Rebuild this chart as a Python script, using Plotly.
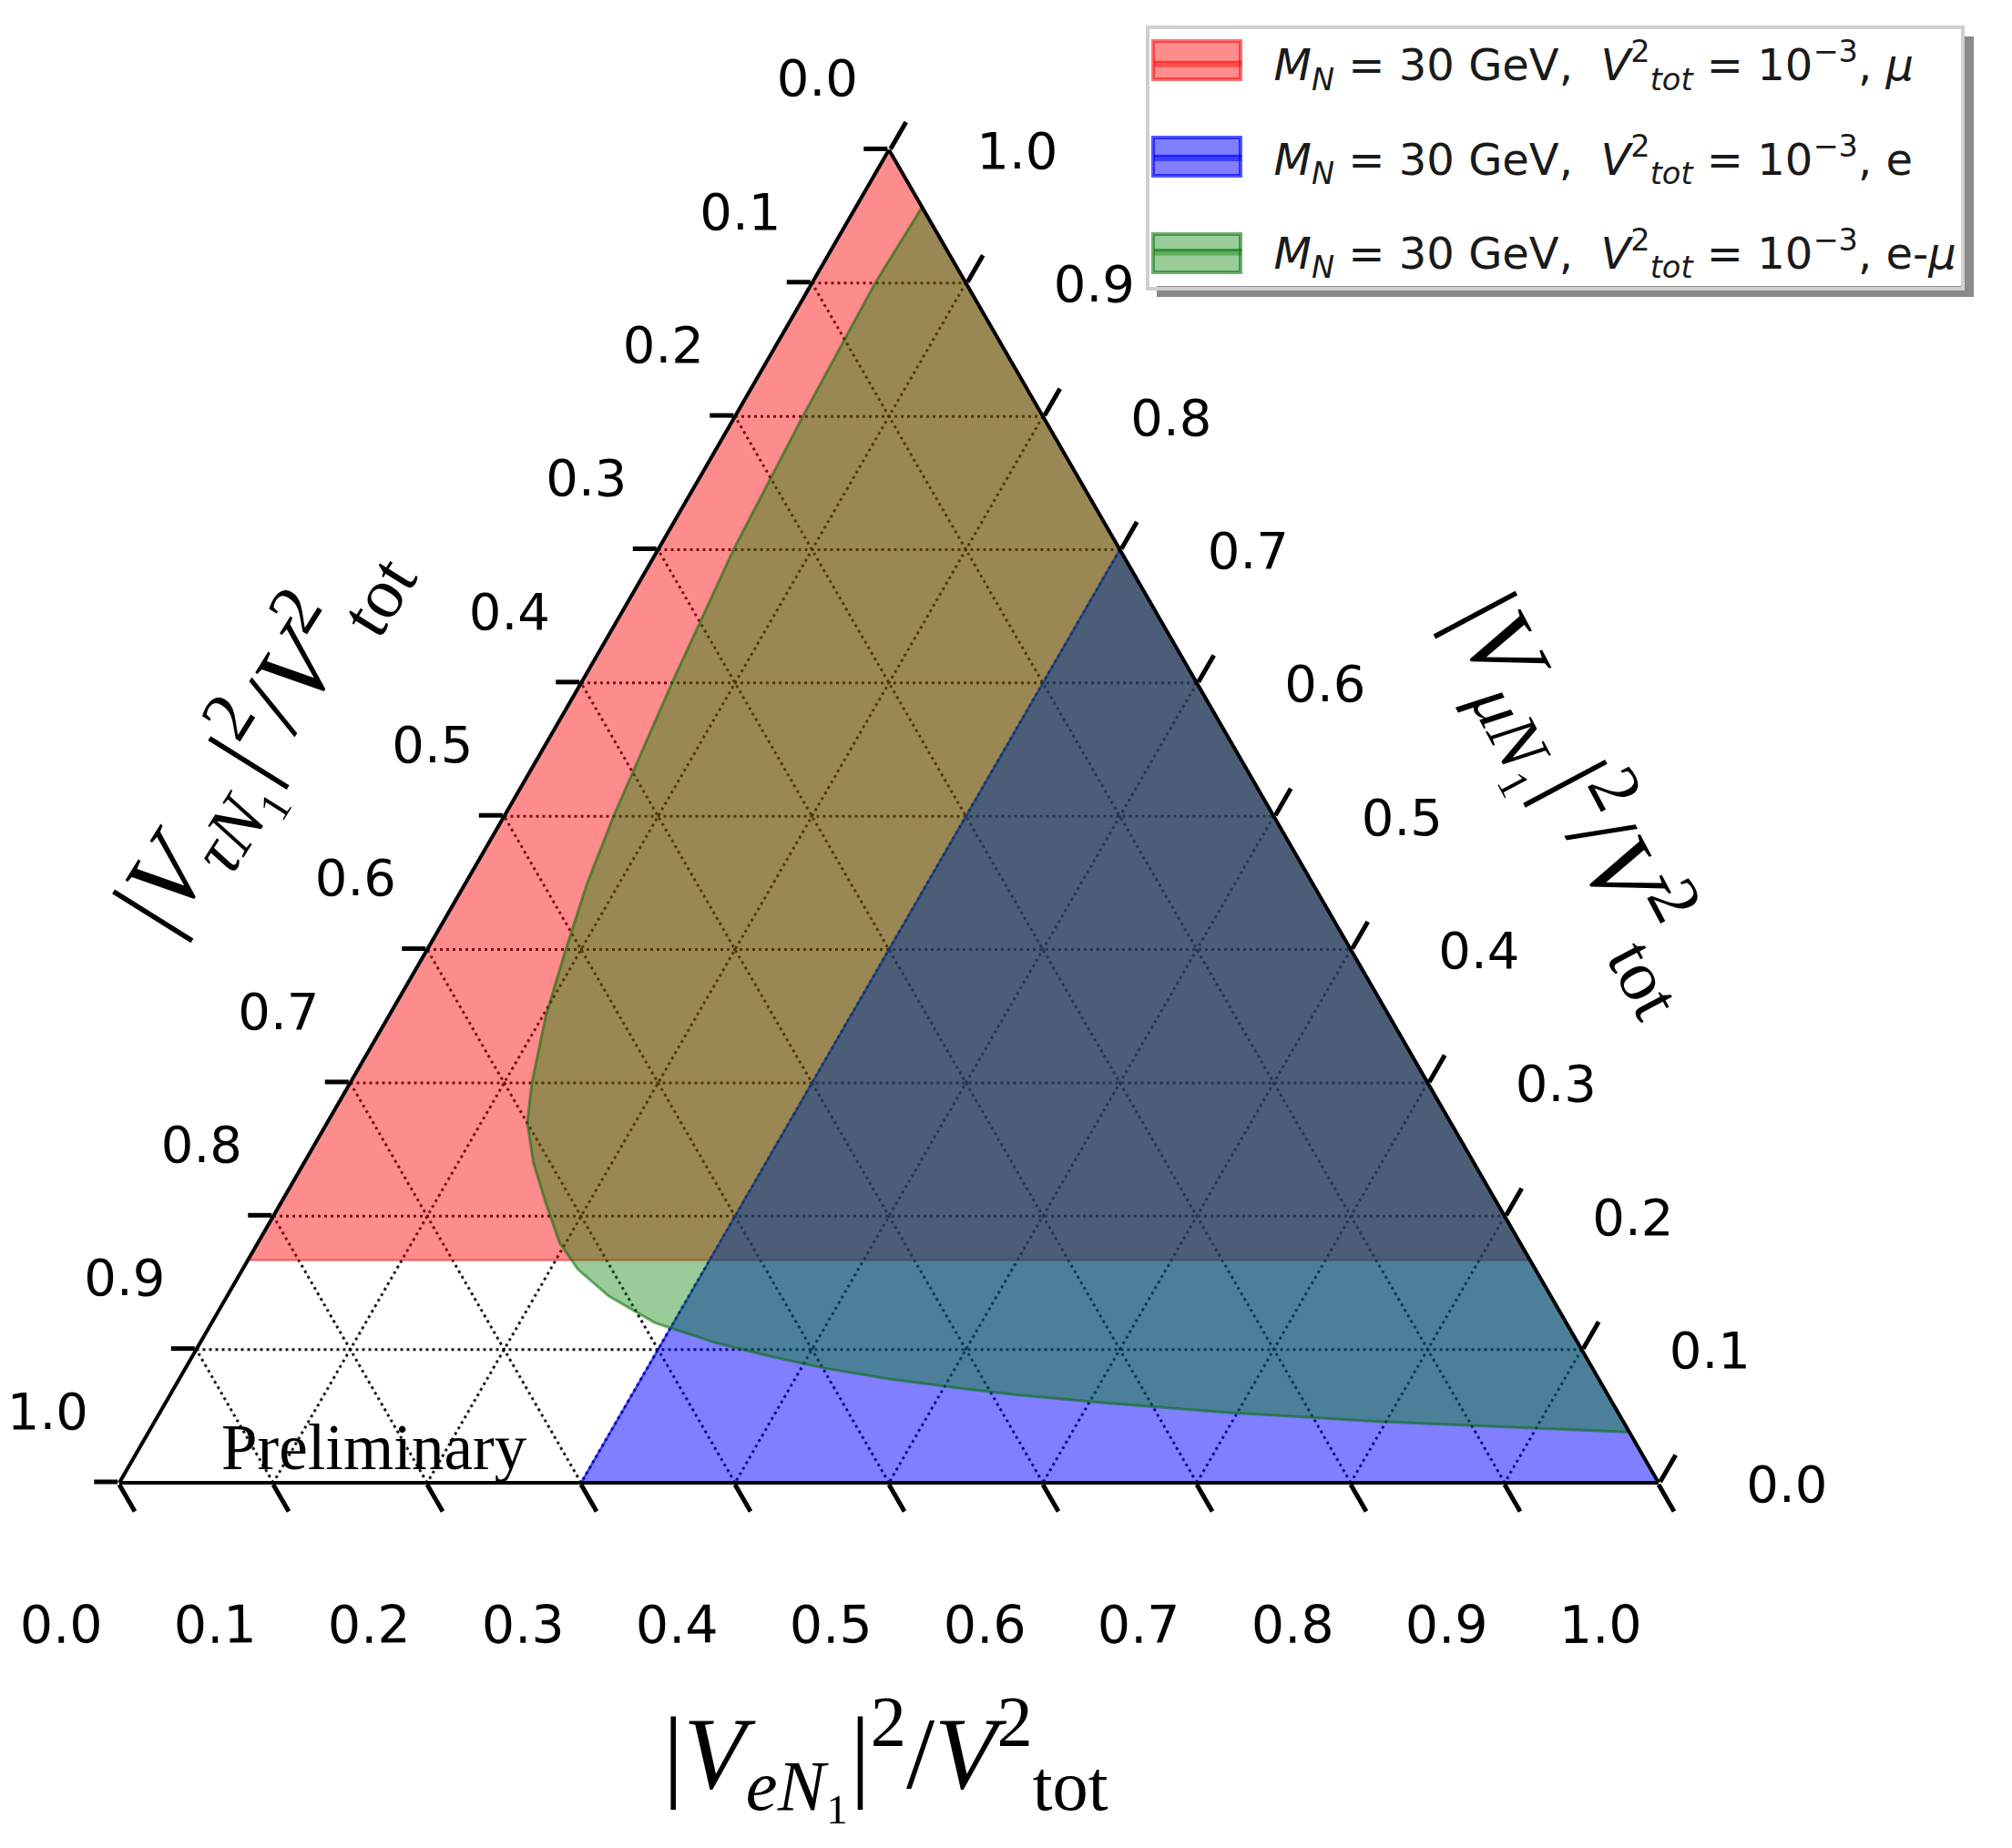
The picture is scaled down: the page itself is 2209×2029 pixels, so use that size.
import plotly.graph_objects as go

# ---------------- data (ternary fractions) ----------------
# e = |V_eN1|^2/V_tot^2, mu = |V_muN1|^2/V_tot^2, tau = 1 - e - mu
tick_values = [0.0, 0.1, 0.2, 0.3, 0.4, 0.5, 0.6, 0.7, 0.8, 0.9, 1.0]
tick_labels = ["0.0", "0.1", "0.2", "0.3", "0.4", "0.5", "0.6", "0.7", "0.8", "0.9", "1.0"]

# region allowed for the mu channel
mu_region_e = [0.0, 0.833, 0.0]
mu_region_mu = [0.167, 0.167, 1.0]

# region allowed for the e channel
e_region_e = [0.30, 0.30, 1.00]
e_region_mu = [0.00, 0.70, 0.00]

# region allowed for the e-mu channel (boundary curve, closed along tau = 0)
emu_region_e = [0.043, 0.041, 0.044, 0.049, 0.059, 0.071, 0.079, 0.090, 0.102, 0.118,
                0.130, 0.149, 0.172, 0.196, 0.218, 0.248, 0.288, 0.335, 0.375, 0.415,
                0.460, 0.510, 0.550, 0.610, 0.690, 0.795, 0.898, 0.962]
emu_region_mu = [0.957, 0.900, 0.800, 0.700, 0.600, 0.500, 0.450, 0.400, 0.350, 0.300,
                 0.270, 0.240, 0.210, 0.180, 0.160, 0.140, 0.120, 0.105, 0.095, 0.086,
                 0.078, 0.071, 0.066, 0.060, 0.053, 0.046, 0.041, 0.038]

legend_base = "<i>M<sub>N</sub></i> = 30 GeV,\u00a0\u00a0<i>V</i><sup>2</sup><sub><i>tot</i></sub> = 10<sup>\u22123</sup>, "
series_names = [
    "\u00a0\u00a0" + legend_base + "<i>\u03bc</i>",
    "\u00a0\u00a0" + legend_base + "e",
    "\u00a0\u00a0" + legend_base + "e-<i>\u03bc</i>",
]

fill_colors = ["rgba(255,0,0,0.45)", "rgba(0,0,255,0.5)", "rgba(0,128,0,0.4)"]
edge_colors = ["rgba(255,0,0,0.55)", "rgba(0,0,255,0.65)", "rgba(0,110,0,0.55)"]
edge_widths = [2, 2.5, 3]


def tau_of(e_list, mu_list):
    return [1.0 - e - m for e, m in zip(e_list, mu_list)]


fig = go.Figure()

regions = [(mu_region_e, mu_region_mu), (e_region_e, e_region_mu), (emu_region_e, emu_region_mu)]
for i, (e_vals, mu_vals) in enumerate(regions):
    fig.add_trace(go.Scatterternary(
        a=mu_vals, b=tau_of(e_vals, mu_vals), c=e_vals,
        mode="lines", fill="toself", fillcolor=fill_colors[i],
        line=dict(color=edge_colors[i], width=edge_widths[i]),
        name=series_names[i], legendgroup=f"g{i}", hoverinfo="skip",
    ))

NB = "\u00a0"
# left edge labels (tau), shifted up like the reference
a_text = [t + "<br> <br> " for t in tick_labels[::-1]]
# bottom labels (e), pushed down and to the left of their ticks
b_text = ["<br>" + t + NB * 2 for t in tick_labels[::-1]]
# right edge labels (mu), shifted to the right at the same height
c_text = ["<br>" + NB * 4 + t for t in tick_labels[::-1]]

axis_common = dict(
    tickmode="array", tickvals=tick_values,
    ticks="outside", ticklen=34, tickwidth=4.5, tickcolor="black",
    showline=True, linecolor="black", linewidth=4,
    showgrid=True, gridcolor="rgba(0,0,0,0.9)", gridwidth=2.5, griddash="3px,4px",
    layer="above traces", title=dict(text=""), min=0,
)

W, H = 2209, 2029
tri_w = 1690.0
tri_h = tri_w * 3 ** 0.5 / 2
x_left = 131.0
y_bottom = 1628.0

# legend frame (pixels) and legend key boxes drawn behind the transparent legend
leg_top, leg_h, leg_left, leg_w = 28, 286, 1258, 897
key_x0, key_x1, key_half_h = 1266, 1362, 21
key_centers = [66, 172, 278]

shapes = [
    dict(type="rect", xref="paper", yref="paper", layer="above",
         x0=(leg_left + 12) / W, x1=(leg_left + leg_w + 12) / W,
         y0=1 - (leg_top + leg_h + 12) / H, y1=1 - (leg_top + 12) / H,
         fillcolor="#8a8a8a", line=dict(width=0)),
    dict(type="rect", xref="paper", yref="paper", layer="above",
         x0=leg_left / W, x1=(leg_left + leg_w) / W,
         y0=1 - (leg_top + leg_h) / H, y1=1 - leg_top / H,
         fillcolor="white", line=dict(width=0)),
]
for i, yc in enumerate(key_centers):
    shapes.append(dict(type="rect", xref="paper", yref="paper", layer="above",
                       x0=key_x0 / W, x1=key_x1 / W,
                       y0=1 - (yc + key_half_h) / H, y1=1 - (yc - key_half_h) / H,
                       fillcolor=fill_colors[i], line=dict(color=edge_colors[i], width=4)))

fig.update_layout(
    width=W, height=H,
    margin=dict(l=0, r=0, t=0, b=0),
    paper_bgcolor="white",
    showlegend=True,
    ternary=dict(
        sum=1,
        bgcolor="white",
        domain=dict(x=[x_left / W, (x_left + tri_w) / W],
                    y=[(H - y_bottom) / H, (H - y_bottom + tri_h) / H]),
        aaxis=dict(axis_common, ticktext=a_text, ticklen=26,
                   tickfont=dict(family="DejaVu Sans", size=56, color="black")),
        baxis=dict(axis_common, ticktext=b_text, tickangle=-0.5,
                   tickfont=dict(family="DejaVu Sans", size=57, color="black")),
        caxis=dict(axis_common, ticktext=c_text,
                   tickfont=dict(family="DejaVu Sans", size=56, color="black")),
    ),
    legend=dict(
        x=leg_left / W, y=1 - leg_top / H, xanchor="left", yanchor="top",
        bgcolor="rgba(0,0,0,0)", bordercolor="#cfcfcf", borderwidth=4,
        font=dict(family="DejaVu Sans", size=48, color="#1a1a1a"),
        itemwidth=96, traceorder="grouped", tracegroupgap=38,
    ),
    shapes=shapes,
)

title_font = dict(family="Liberation Serif", size=112, color="black")
fig.add_annotation(
    x=972 / W, y=1 - 1925 / H, xref="paper", yref="paper", showarrow=False,
    xanchor="center", yanchor="middle",
    text="|<i>V</i><sub><i>eN</i>\u2081</sub>|<sup>2</sup>/<i>V</i><sup>2</sup><sub>tot</sub>",
    font=title_font,
)
fig.add_annotation(
    x=280 / W, y=1 - 805 / H, xref="paper", yref="paper", showarrow=False,
    xanchor="center", yanchor="middle",
    text="|<i>V</i><sub><i>\u03c4N</i>\u2081</sub>|<sup>2</sup>/<i>V</i><sup>2</sup><sub>tot</sub>",
    font=title_font, textangle=-58,
)
fig.add_annotation(
    x=1740 / W, y=1 - 877 / H, xref="paper", yref="paper", showarrow=False,
    xanchor="center", yanchor="middle",
    text="|<i>V</i><sub><i>\u03bcN</i>\u2081</sub>|<sup>2</sup>/<i>V</i><sup>2</sup><sub>tot</sub>",
    font=title_font, textangle=62,
)
fig.add_annotation(
    x=411 / W, y=1 - 1589 / H, xref="paper", yref="paper", showarrow=False,
    xanchor="center", yanchor="middle",
    text="Preliminary", font=dict(family="Liberation Serif", size=71, color="black"),
)

fig.write_html("out.html")
